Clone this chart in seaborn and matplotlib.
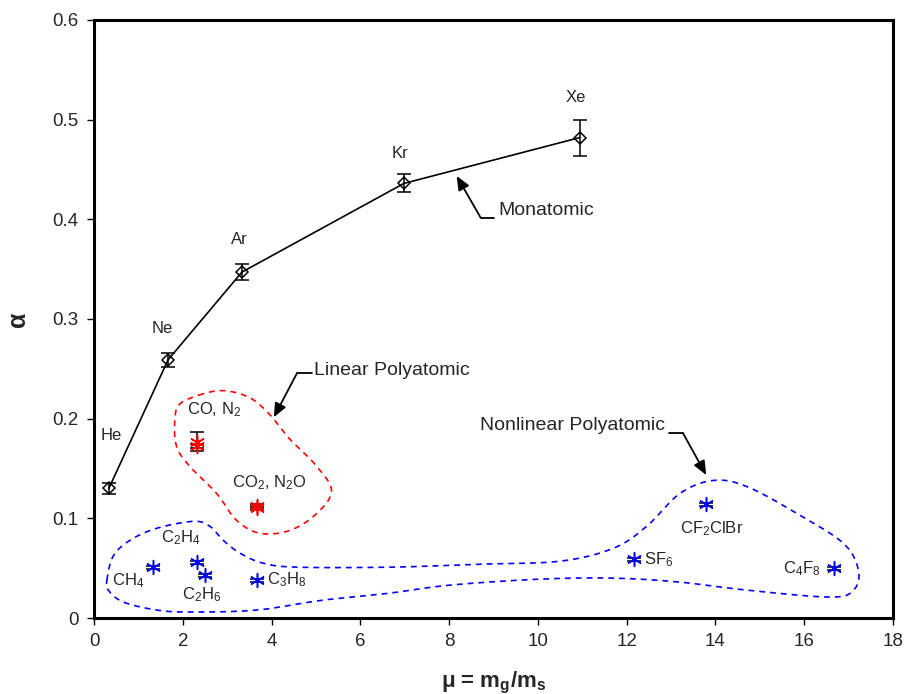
import numpy as np
import pandas as pd
import matplotlib
matplotlib.use("Agg")
import matplotlib.pyplot as plt
import seaborn as sns

# ---- data -----------------------------------------------------------------
mono_names = ["He", "Ne", "Ar", "Kr", "Xe"]
mono_mu = [0.333, 1.667, 3.33, 6.98, 10.94]
mono_alpha = [0.130, 0.259, 0.347, 0.436, 0.482]
mono_err = [0.0055, 0.0072, 0.0077, 0.009, 0.018]

lin_names = ["CO", "N2", "CO2", "N2O"]
lin_mu = [2.33, 2.33, 3.67, 3.67]
lin_alpha = [0.177, 0.173, 0.112, 0.110]
lin_err = [0.0095, 0.002, 0.002, 0.002]

nonlin_names = ["CH4", "C2H4", "C2H6", "C3H8", "SF6", "CF2ClBr", "C4F8"]
nonlin_mu = [1.33, 2.33, 2.50, 3.67, 12.17, 13.78, 16.67]
nonlin_alpha = [0.051, 0.056, 0.043, 0.038, 0.059, 0.114, 0.050]
nonlin_err = [0.0015, 0.0015, 0.0015, 0.0015, 0.0015, 0.0015, 0.0015]

x_ticks = [0, 2, 4, 6, 8, 10, 12, 14, 16, 18]
y_ticks = [0, 0.1, 0.2, 0.3, 0.4, 0.5, 0.6]
y_tick_labels = ["0", "0.1", "0.2", "0.3", "0.4", "0.5", "0.6"]

# outlines of the two polyatomic groups (closed, smoothed below)
lin_outline_x = [2.46, 1.94, 1.82, 1.86, 2.16, 2.76, 3.21, 3.74, 4.42, 5.02,
                 5.35, 4.98, 4.42, 3.96, 3.51, 2.95]
lin_outline_y = [0.225, 0.215, 0.199, 0.172, 0.152, 0.125, 0.098, 0.085, 0.088,
                 0.105, 0.128, 0.154, 0.179, 0.204, 0.221, 0.228]
nonlin_outline_x = [0.29, 0.43, 0.81, 1.41, 2.24, 2.61, 2.91, 3.29, 3.81, 4.57,
                    6.67, 8.70, 10.50, 11.70, 12.45, 13.20, 13.95, 14.70, 15.83,
                    16.88, 17.22, 17.11, 16.58, 14.70, 13.20, 11.70, 10.05, 8.02,
                    6.67, 5.17, 3.67, 2.16, 1.41, 0.66, 0.32]
nonlin_outline_y = [0.038, 0.062, 0.078, 0.090, 0.097, 0.092, 0.078, 0.065, 0.055,
                    0.051, 0.051, 0.054, 0.057, 0.070, 0.092, 0.125, 0.138, 0.132,
                    0.105, 0.075, 0.048, 0.028, 0.021, 0.028, 0.036, 0.040, 0.039,
                    0.033, 0.025, 0.018, 0.008, 0.006, 0.008, 0.016, 0.028]

mono = pd.DataFrame({"name": mono_names, "mu": mono_mu, "alpha": mono_alpha, "err": mono_err})
lin = pd.DataFrame({"name": lin_names, "mu": lin_mu, "alpha": lin_alpha, "err": lin_err})
nonlin = pd.DataFrame({"name": nonlin_names, "mu": nonlin_mu, "alpha": nonlin_alpha, "err": nonlin_err})

# ---- style ----------------------------------------------------------------
sns.set_theme(style="white")
plt.rcParams["font.family"] = ["Liberation Sans", "DejaVu Sans"]
plt.rcParams["mathtext.fontset"] = "custom"
plt.rcParams["mathtext.rm"] = "Liberation Sans"
plt.rcParams["mathtext.it"] = "Liberation Sans:italic"
plt.rcParams["mathtext.bf"] = "Liberation Sans:bold"

TXT = "#262626"


def closed_spline(xs, ys, n=24):
    pts = np.column_stack([xs, ys])
    N = len(pts)
    t = np.linspace(0, 1, n, endpoint=False)[:, None]
    segs = []
    for i in range(N):
        p0, p1, p2, p3 = pts[(i - 1) % N], pts[i], pts[(i + 1) % N], pts[(i + 2) % N]
        segs.append(0.5 * (2 * p1 + (-p0 + p2) * t
                           + (2 * p0 - 5 * p1 + 4 * p2 - p3) * t ** 2
                           + (-p0 + 3 * p1 - 3 * p2 + p3) * t ** 3))
    out = np.vstack(segs + [pts[:1]])
    return out[:, 0], out[:, 1]


fig = plt.figure(figsize=(9.06, 6.94), dpi=100)
ax = fig.add_axes([0.1038, 0.1095, 0.8819, 0.8617])

# group outlines
for ox, oy, col in [(lin_outline_x, lin_outline_y, "#ff0000"),
                    (nonlin_outline_x, nonlin_outline_y, "#0000ff")]:
    sx, sy = closed_spline(ox, oy)
    ax.plot(sx, sy, color=col, lw=1.2, ls=(0, (3.5, 3)), zorder=1)

# monatomic series
sns.lineplot(data=mono, x="mu", y="alpha", ax=ax, color="black", lw=1.2,
             marker="D", markersize=6, markerfacecolor="none",
             markeredgecolor="black", markeredgewidth=1.1, zorder=3)
ax.errorbar(mono["mu"], mono["alpha"], yerr=mono["err"], fmt="none",
            ecolor="black", elinewidth=1.1, capsize=5, capthick=1.1, zorder=4)

# linear polyatomic
ax.errorbar(lin["mu"], lin["alpha"], yerr=lin["err"], fmt="none",
            ecolor="black", elinewidth=1.1, capsize=5, capthick=1.1, zorder=3)
sns.scatterplot(data=lin, x="mu", y="alpha", ax=ax, marker=(6, 2, 0), s=100,
                color="#ff0000", linewidth=1.1, zorder=4)

# nonlinear polyatomic
ax.errorbar(nonlin["mu"], nonlin["alpha"], yerr=nonlin["err"], fmt="none",
            ecolor="black", elinewidth=1.1, capsize=5, capthick=1.1, zorder=3)
sns.scatterplot(data=nonlin, x="mu", y="alpha", ax=ax, marker=(6, 2, 0), s=100,
                color="#0000ff", linewidth=1.1, zorder=4)


def tag(text, x, y, dx, dy, ha="center", size=12):
    ax.annotate(text, (x, y), xytext=(dx, -dy), textcoords="offset pixels",
                ha=ha, va="center", fontsize=size, color=TXT)


# monatomic labels
mono_off = {"He": (2, -53), "Ne": (-6, -31), "Ar": (-3, -33), "Kr": (-4, -30), "Xe": (-4, -40)}
for _, r in mono.iterrows():
    dx, dy = mono_off[r["name"]]
    tag(r["name"], r["mu"], r["alpha"], dx, dy)

# linear labels
tag(r"CO, N$_\mathregular{2}$", lin_mu[0], lin_alpha[0], 17, -32)
tag(r"CO$_\mathregular{2}$, N$_\mathregular{2}$O", lin_mu[2], lin_alpha[2], 12, -24)

# nonlinear labels
tag(r"CH$_\mathregular{4}$", nonlin_mu[0], nonlin_alpha[0], -25, 13)
tag(r"C$_\mathregular{2}$H$_\mathregular{4}$", nonlin_mu[1], nonlin_alpha[1], -17, -25)
tag(r"C$_\mathregular{2}$H$_\mathregular{6}$", nonlin_mu[2], nonlin_alpha[2], -3, 20)
tag(r"C$_\mathregular{3}$H$_\mathregular{8}$", nonlin_mu[3], nonlin_alpha[3], 10, 0, ha="left")
tag(r"SF$_\mathregular{6}$", nonlin_mu[4], nonlin_alpha[4], 10, 0, ha="left")
tag(r"CF$_\mathregular{2}$ClBr", nonlin_mu[5], nonlin_alpha[5], 6, 24)
tag(r"C$_\mathregular{4}$F$_\mathregular{8}$", nonlin_mu[6], nonlin_alpha[6], -14, 0, ha="right")

# group call-outs: text, short horizontal leader, then arrow
callouts = [
    ("Monatomic", (9.10, 0.4086), "left", (9.01, 0.4016), (8.71, 0.4016), (8.17, 0.4435)),
    ("Linear Polyatomic", (4.96, 0.2488), "left", (4.90, 0.2455), (4.57, 0.2455), (4.05, 0.2014)),
    ("Nonlinear Polyatomic", (12.86, 0.1936), "right", (12.96, 0.1853), (13.27, 0.1853), (13.79, 0.1435)),
]
for text, tpos, ha, lead0, elbow, tip in callouts:
    ax.text(tpos[0], tpos[1], text, ha=ha, va="center", fontsize=14, color=TXT)
    ax.plot([lead0[0], elbow[0]], [lead0[1], elbow[1]], color="black", lw=1.3)
    ax.annotate("", xy=tip, xytext=elbow,
                arrowprops=dict(arrowstyle="-|>,head_length=0.7,head_width=0.3",
                                color="black", lw=1.3, shrinkA=0, shrinkB=0))

# axes
ax.set_xlim(0, 18)
ax.set_ylim(0, 0.6)
ax.set_xticks(x_ticks)
ax.set_xticklabels([str(v) for v in x_ticks])
ax.set_yticks(y_ticks)
ax.set_yticklabels(y_tick_labels)
ax.tick_params(axis="both", direction="out", length=5, width=1, colors="black",
               labelsize=13.5, labelcolor=TXT, bottom=True, left=True, pad=6)
for sp in ax.spines.values():
    sp.set_visible(True)
    sp.set_color("black")
    sp.set_linewidth(2.2)

ax.set_xlabel(r"μ = m$_\mathbf{g}$/m$_\mathbf{s}$", fontsize=16, fontweight="bold",
              color=TXT, labelpad=14)
ax.set_ylabel("α", fontsize=18, fontweight="bold", color=TXT, labelpad=16)

fig.savefig("out.png", dpi=100)
